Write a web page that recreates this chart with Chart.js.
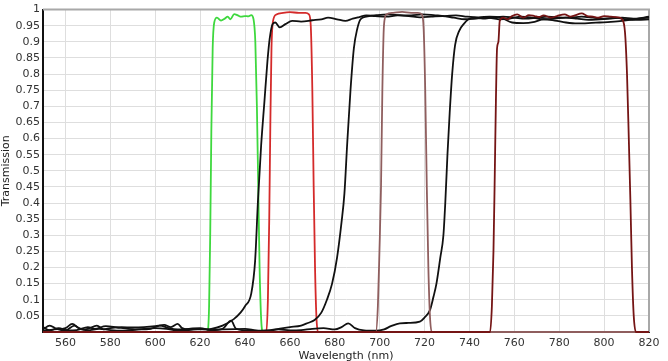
<!DOCTYPE html>
<html>
<head>
<meta charset="utf-8">
<script src="https://cdn.jsdelivr.net/npm/chart.js@4/dist/chart.umd.min.js"></script>
<style>
html,body{margin:0;padding:0;background:#fff;}
#wrap{width:668px;height:361px;position:relative;}
</style>
</head>
<body>
<div id="wrap"><canvas id="c" width="668" height="361"></canvas></div>
<script>
// Tick labels
const xTicks = [560,580,600,620,640,660,680,700,720,740,760,780,800,820];
const yTicks = [0.05,0.1,0.15,0.2,0.25,0.3,0.35,0.4,0.45,0.5,0.55,0.6,0.65,0.7,0.75,0.8,0.85,0.9,0.95,1];

// Dark red band-pass (750-812 nm)
const darkRedX = [550,749.2,750.0,750.7,751.2,751.8,752.3,752.9,753.5,755,757,759,761.3,764,766.5,769,771,773,776.4,779,782.4,785,787,790,792.5,795,797.4,800,803,806.4,808,809.3,810.2,811,811.7,812.4,813.2,814.2,820];
const darkRedY = [0,0,0.08,0.25,0.45,0.72,0.88,0.9,0.965,0.975,0.97,0.98,0.985,0.975,0.983,0.98,0.977,0.982,0.975,0.98,0.985,0.978,0.982,0.988,0.98,0.978,0.975,0.98,0.978,0.976,0.97,0.93,0.8,0.6,0.41,0.2,0.05,0,0];

// Green band-pass (624-647 nm)
const greenX = [550,623.3,624.0,624.5,625.0,625.6,626.3,627.5,629.3,631,632.3,633.5,635.2,636.8,638.3,640,641.5,642.8,643.8,644.6,645.3,645.9,646.5,647.2,648,820];
const greenY = [0,0,0.08,0.3,0.62,0.88,0.96,0.975,0.966,0.972,0.978,0.97,0.986,0.982,0.978,0.98,0.979,0.983,0.97,0.9,0.7,0.45,0.2,0.04,0,0];

// Red band-pass (650-672 nm)
const redX = [550,649.5,650.2,650.8,651.3,651.8,652.5,654,657,660,664,667,668.5,669.3,670,670.6,671.2,671.8,672.5,820];
const redY = [0,0,0.1,0.35,0.65,0.88,0.965,0.985,0.99,0.992,0.99,0.99,0.985,0.95,0.75,0.45,0.2,0.05,0,0];

// Brown band-pass (700-721 nm)
const brownX = [550,698.3,699.2,699.9,700.6,701.2,701.9,703,706,710,714,717,718.8,719.6,720.3,721,721.7,722.4,723.2,820];
const brownY = [0,0,0.08,0.25,0.45,0.75,0.95,0.985,0.99,0.993,0.99,0.99,0.985,0.94,0.75,0.45,0.2,0.05,0,0];

// Black long-pass A (edge ~646 nm)
const blackAX = [550,553,556,560,564,567,570,574,577,580,585,590,595,600,604,607,610,612,615,620,625,630,635,638,640,642.8,644.5,645.8,647.2,648.6,650,651,652.3,653.5,655.5,658,661,665,670,674,677,681,684.7,688,690.9,694,698,703,708,713,718,723,728,733,738,743,748,753,758,763,768,773,778,783,788,793,798,803,808,813,820];
const blackAY = [0.008,0.02,0.01,0.005,0.02,0.008,0.01,0.02,0.008,0.012,0.015,0.014,0.015,0.018,0.022,0.015,0.025,0.012,0.008,0.008,0.01,0.02,0.04,0.06,0.08,0.12,0.22,0.41,0.58,0.71,0.84,0.91,0.955,0.96,0.945,0.955,0.965,0.963,0.967,0.97,0.975,0.97,0.965,0.972,0.977,0.982,0.98,0.978,0.982,0.98,0.976,0.978,0.98,0.975,0.97,0.972,0.975,0.97,0.972,0.978,0.975,0.97,0.972,0.975,0.972,0.968,0.97,0.972,0.975,0.972,0.975];

// Black long-pass B (edge ~685 nm)
const blackBX = [550,555,560,563,566,570,575,580,585,590,595,600,605,610,615,620,625,630,633.8,636,640,645,650,655,660,665,668,671,674,676.5,678.8,681,683,684.3,685.5,687,688.5,690,691.5,694,699,704,709,714,719,724,729,734,739,744,749,754,759,764,769,773,778,783,788,793,798,803,808,813,820];
const blackBY = [0.003,0.008,0.012,0.025,0.012,0.005,0.01,0.006,0.004,0.006,0.01,0.012,0.01,0.005,0.006,0.01,0.006,0.01,0.035,0.01,0.005,0.003,0.005,0.01,0.015,0.02,0.028,0.037,0.06,0.1,0.15,0.23,0.34,0.43,0.58,0.75,0.88,0.94,0.97,0.978,0.983,0.985,0.983,0.982,0.985,0.983,0.98,0.982,0.978,0.976,0.978,0.975,0.96,0.958,0.962,0.97,0.966,0.96,0.957,0.958,0.96,0.962,0.965,0.97,0.978];

// Black long-pass C (edge ~729 nm)
const blackCX = [550,553,557,561,565,570,573,578,583,588,593,598,602,606,610,615,620,625,630,640,645,650,655,660,665,670,675,680,683,686,689,693,698,702,705,709,713,717.9,720,722.4,724,725.3,727,728.4,729.3,730.2,731.2,732.3,733.6,735.5,737.4,739.6,742,746,750,755,760,765,770,775,780,785,790,795,800,805,810,815,820];
const blackCY = [0.015,0.005,0.012,0.005,0.006,0.015,0.01,0.018,0.014,0.01,0.008,0.01,0.02,0.012,0.008,0.01,0.012,0.006,0.008,0.01,0.005,0.004,0.008,0.005,0.006,0.01,0.012,0.008,0.015,0.027,0.012,0.005,0.004,0.008,0.018,0.027,0.028,0.032,0.045,0.068,0.11,0.15,0.23,0.3,0.41,0.55,0.68,0.8,0.89,0.935,0.955,0.97,0.975,0.972,0.975,0.978,0.975,0.972,0.975,0.978,0.976,0.975,0.978,0.975,0.972,0.975,0.97,0.968,0.97];

function pts(xs, ys){ return xs.map((x,i)=>({x:x, y:ys[i]})); }
function ds(label, xs, ys, color, order){
  return {label, data: pts(xs, ys), borderColor: color, backgroundColor: color, order,
    borderWidth: 1.8, pointRadius: 0, fill: false, cubicInterpolationMode: 'monotone', clip: 3};
}

const framePlugin = {
  id: 'frame',
  beforeDatasetsDraw(chart){
    const {ctx, chartArea:a} = chart;
    ctx.save();
    ctx.strokeStyle = '#a8a8a8';
    ctx.lineWidth = 2;
    ctx.beginPath();
    ctx.moveTo(a.left, a.top);
    ctx.lineTo(a.right, a.top);
    ctx.lineTo(a.right, a.bottom);
    ctx.stroke();
    ctx.restore();
  }
};

const font = {family: '"DejaVu Sans", Verdana, sans-serif', size: 11};

// lower order = drawn on top
new Chart(document.getElementById('c'), {
  type: 'line',
  data: {
    datasets: [
      ds('Green', greenX, greenY, '#3ed83e', 7),
      ds('Red', redX, redY, '#d42a2a', 6),
      ds('Brown', brownX, brownY, '#8f5e5e', 2),
      ds('Dark red', darkRedX, darkRedY, '#751515', 1),
      ds('Black A', blackAX, blackAY, '#111111', 3),
      ds('Black B', blackBX, blackBY, '#111111', 4),
      ds('Black C', blackCX, blackCY, '#111111', 5)
    ]
  },
  options: {
    responsive: false,
    animation: false,
    layout: {padding: {left: 0, top: 7, right: 19, bottom: 0}},
    plugins: {legend: {display: false}, tooltip: {enabled: false}},
    scales: {
      x: {
        type: 'linear', min: 550, max: 820,
        afterBuildTicks(s){ s.ticks = xTicks.map(v=>({value:v})); },
        afterFit(s){ s.height = 29; },
        ticks: {font, color: '#333', padding: 5, maxRotation: 0, autoSkip: false},
        grid: {color: '#dedede', lineWidth: 1, drawTicks: false},
        border: {color: '#222', width: 2},
        title: {display: true, text: 'Wavelength (nm)', font, color: '#222', padding: {top: 0, bottom: -2}}
      },
      y: {
        type: 'linear', min: 0, max: 1,
        afterBuildTicks(s){ s.ticks = yTicks.map(v=>({value:v})); },
        afterFit(s){ s.width = 43; },
        ticks: {font, color: '#333', padding: 3, autoSkip: false,
          callback: v => String(Math.round(v*100)/100)},
        grid: {color: '#dedede', lineWidth: 1, drawTicks: false},
        border: {color: '#111', width: 2},
        title: {display: true, text: 'Transmission', font, color: '#222', padding: {top: 0, bottom: 0}}
      }
    }
  },
  plugins: [framePlugin]
});
</script>
</body>
</html>
